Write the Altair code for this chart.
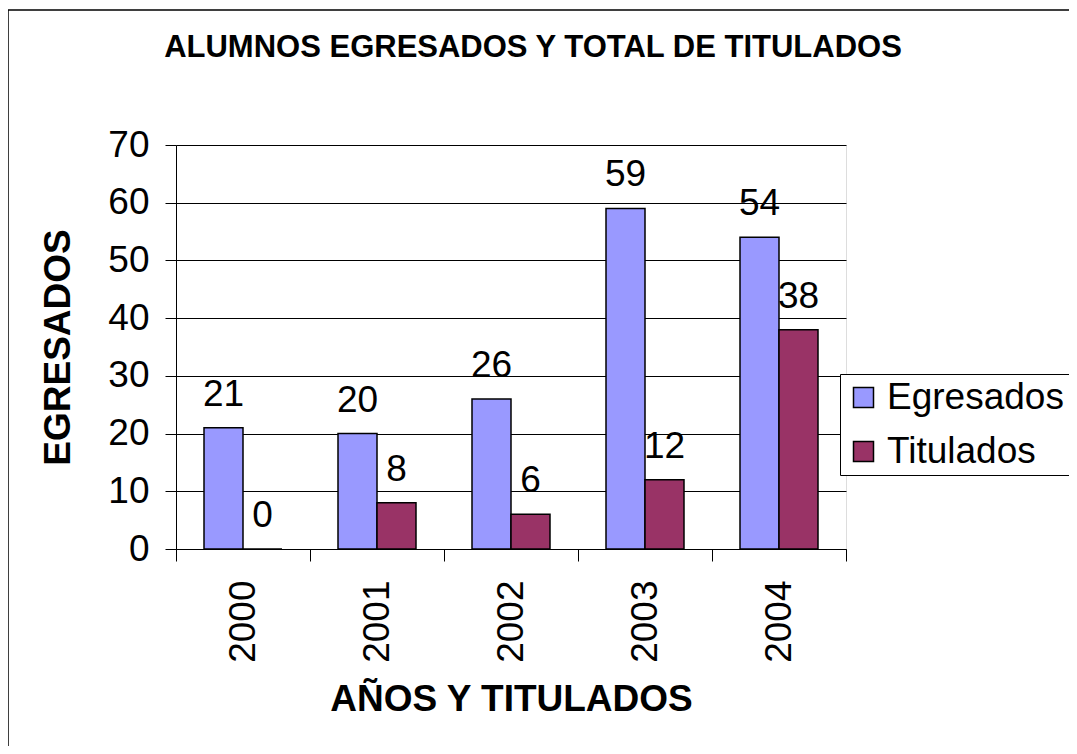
import altair as alt
import pandas as pd

years = ["2000", "2001", "2002", "2003", "2004"]
egresados = [21, 20, 26, 59, 54]
titulados = [0, 8, 6, 12, 38]
series = ["Egresados", "Titulados"]
colors = ["#9999FF", "#993366"]

rows = []
for i, y in enumerate(years):
    rows.append({"year": y, "serie": series[0], "value": egresados[i]})
    rows.append({"year": y, "serie": series[1], "value": titulados[i]})
df = pd.DataFrame(rows)

FONT = "Liberation Sans"

x_enc = alt.X(
    "year:N",
    sort=years,
    scale=alt.Scale(paddingInner=0, paddingOuter=0),
    axis=alt.Axis(
        title="AÑOS Y TITULADOS",
        labelAngle=-90,
        labelAlign="right",
        labelBaseline="middle",
        labelFontSize=37,
        labelFont=FONT,
        labelColor="black",
        labelPadding=19,
        tickBand="extent",
        tickSize=12,
        tickColor="black",
        domainColor="black",
        grid=False,
        titleFontSize=37,
        titleFont=FONT,
        titleFontWeight="bold",
        titleColor="black",
        titlePadding=19,
    ),
)
xoff = alt.XOffset("serie:N", sort=series, scale=alt.Scale(paddingOuter=0.718, paddingInner=0))
y_enc = alt.Y(
    "value:Q",
    scale=alt.Scale(domain=[0, 70]),
    axis=alt.Axis(
        title="EGRESADOS",
        values=[0, 10, 20, 30, 40, 50, 60, 70],
        labelFontSize=37,
        labelFont=FONT,
        labelColor="black",
        labelPadding=16,
        tickSize=11,
        tickColor="black",
        domainColor="black",
        gridColor="black",
        gridWidth=1,
        titleFontSize=37,
        titleFont=FONT,
        titleFontWeight="bold",
        titleColor="black",
        titlePadding=30,
    ),
)

base = alt.Chart(df)

bars = base.mark_bar(stroke="black", strokeWidth=1.5).encode(
    x=x_enc,
    xOffset=xoff,
    y=y_enc,
    color=alt.Color(
        "serie:N",
        sort=series,
        scale=alt.Scale(domain=series, range=colors),
        legend=alt.Legend(
            title=None,
            orient="none",
            legendX=664,
            legendY=229,
            symbolType="square",
            symbolSize=400,
            symbolStrokeColor="black",
            symbolStrokeWidth=1.5,
            labelFontSize=37,
            labelFont=FONT,
            labelColor="black",
            labelOffset=5,
            labelLimit=0,
            rowPadding=16,
            padding=5,
            strokeColor="black",
            fillColor="white",
        ),
    ),
)

labels = base.mark_text(
    baseline="alphabetic", dy=-22, fontSize=37, font=FONT, color="black"
).encode(
    x=alt.X("year:N", sort=years),
    xOffset=alt.XOffset("serie:N", sort=series),
    y=alt.Y("value:Q"),
    text=alt.Text("value:Q"),
)

frame = alt.Chart(pd.DataFrame({"f": [0]})).mark_rect(
    fill="transparent", stroke="black", strokeWidth=1.5
).encode(
    x=alt.value(-168), x2=alt.value(1200), y=alt.value(-135), y2=alt.value(1000)
)

chart = alt.layer(bars, labels, frame).properties(
    width=670,
    height=404,
    autosize="none",
    padding={"left": 168, "top": 137, "right": 223, "bottom": 197},
    title=alt.TitleParams(
        "ALUMNOS EGRESADOS Y TOTAL DE TITULADOS",
        font=FONT,
        fontSize=31,
        fontWeight="bold",
        color="black",
        anchor="middle",
        dx=22,
        offset=-55,
    ),
).configure_view(
    fill="#C0C0C0", stroke="#808080", strokeWidth=2
).configure(background="white")

chart.save("out.html", embed_options={"renderer": "svg", "actions": False})
